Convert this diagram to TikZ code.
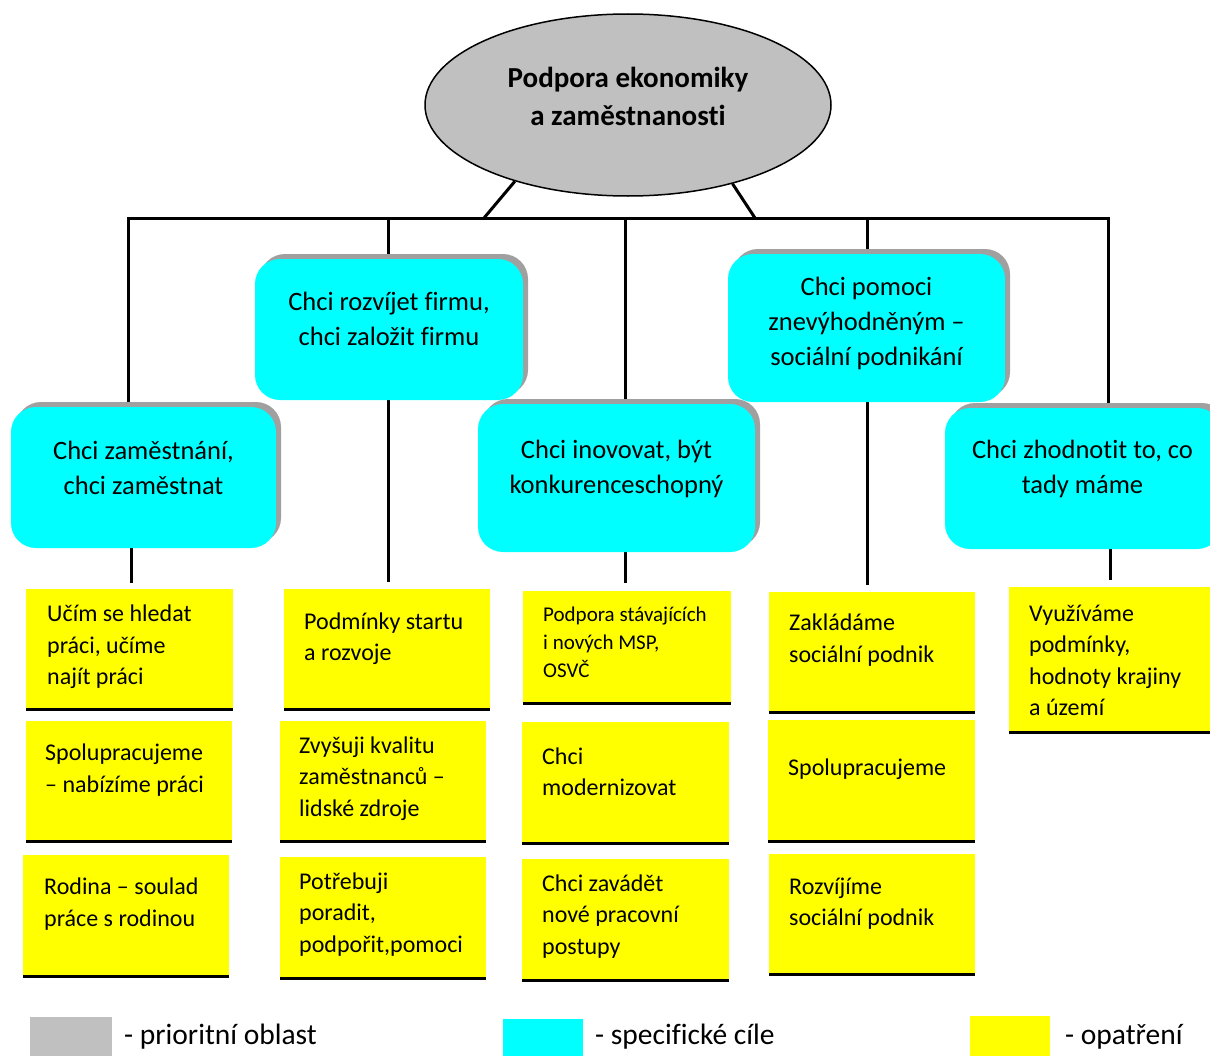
\documentclass[tikz,border=0pt]{standalone}
\usepackage{fontspec}
\setmainfont[Ligatures={NoCommon,NoContextual},Contextuals={NoAlternate}]{Carlito}
\usetikzlibrary{shapes.geometric,shadows,backgrounds}
\definecolor{cyanC}{HTML}{00FFFF}
\definecolor{yellowC}{HTML}{FFFF00}
\definecolor{grayC}{HTML}{C0C0C0}
\definecolor{shadowC}{HTML}{A0A0A0}
\begin{document}
\begin{tikzpicture}[x=1pt,y=-1pt,
  conn/.style={line width=3pt, draw=black},
  goalbox/.style={rectangle, rounded corners=25pt, fill=cyanC, inner sep=0pt, outer sep=0pt,
    general shadow={fill=shadowC, shadow xshift=5pt, shadow yshift=5pt}},
  goaltext/.style={font=\fontsize{26.5}{35}\selectfont, align=center, inner sep=0pt},
  measbox/.style={rectangle, fill=yellowC, inner sep=0pt, outer sep=0pt},
  meastext/.style={font=\fontsize{24}{31.5}\selectfont, align=left, anchor=west, inner sep=0pt},
  smalltext/.style={font=\fontsize{21}{28}\selectfont, align=left, anchor=west, inner sep=0pt},
  baseline/.style={line width=3pt, draw=black},
  legtext/.style={font=\fontsize{29.5}{34}\selectfont, anchor=west, inner sep=0pt}
]
\useasboundingbox (0,0) rectangle (1210,1057);
\begin{scope}
\clip (0,0) rectangle (1210,1057);

% priority area
\node[ellipse, fill=grayC, draw=black, line width=1.5pt, minimum width=406pt, minimum height=182pt, inner sep=0pt] (e) at (628,105) {};
\node[font=\bfseries\fontsize{29}{38}\selectfont, align=center, inner sep=0pt] (et) at (628,96) {Podpora ekonomiky\\a zaměstnanosti};

% specific goals
\node[goalbox, minimum width=265pt, minimum height=141pt] (c1) at (143.5,477.5) {};
\node[goalbox, minimum width=268pt, minimum height=141pt] (c2) at (389,329.5) {};
\node[goalbox, minimum width=277pt, minimum height=148pt] (c3) at (616.5,478) {};
\node[goalbox, minimum width=277pt, minimum height=148pt] (c4) at (866.5,328) {};
\node[goalbox, minimum width=277pt, minimum height=141pt] (c5) at (1083.5,478.5) {};

\node[goaltext] (t1) at (143.5,467.5) {Chci zaměstnání,\\chci zaměstnat};
\node[goaltext] (t2) at (389,318.5) {Chci rozvíjet firmu,\\chci založit firmu};
\node[goaltext] (t3) at (616.5,468.5) {Chci inovovat, být\\konkurenceschopný};
\node[goaltext] (t4) at (866.5,323.5) {Chci pomoci\\znevýhodněným –\\sociální podnikání};
\node[goaltext] (t5) at (1082.5,468.5) {Chci zhodnotit to, co\\tady máme};

% measures
\node[measbox, minimum width=207pt, minimum height=119pt] (y1a) at (129.5,648.5) {};
\node[measbox, minimum width=206pt, minimum height=119pt] (y1b) at (129,780.5) {};
\node[measbox, minimum width=206pt, minimum height=120pt] (y1c) at (126,915) {};
\node[measbox, minimum width=206pt, minimum height=119pt] (y2a) at (387,648.5) {};
\node[measbox, minimum width=206pt, minimum height=119pt] (y2b) at (383,780.5) {};
\node[measbox, minimum width=206pt, minimum height=120pt] (y2c) at (383,917) {};
\node[measbox, minimum width=208pt, minimum height=111pt] (y3a) at (627,646.5) {};
\node[measbox, minimum width=207pt, minimum height=120pt] (y3b) at (625.5,782) {};
\node[measbox, minimum width=207pt, minimum height=120pt] (y3c) at (625.5,919) {};
\node[measbox, minimum width=206pt, minimum height=119pt] (y4a) at (872,651.5) {};
\node[measbox, minimum width=207pt, minimum height=120pt] (y4b) at (871.5,780) {};
\node[measbox, minimum width=206pt, minimum height=119pt] (y4c) at (872,913.5) {};
\node[measbox, minimum width=210pt, minimum height=144pt] (y5a) at (1114,659) {};

\foreach \b in {y1a,y1b,y1c,y2a,y2b,y2c,y3a,y3b,y3c,y4a,y4b,y4c,y5a}
  \draw[baseline] ([yshift=-1.5pt]\b.south west) -- ([yshift=-1.5pt]\b.south east);

\node[meastext] (m1a) at (47,647) {Učím se hledat\\práci, učíme\\najít práci};
\node[meastext] (m1b) at (45,770) {Spolupracujeme\\– nabízíme práci};
\node[meastext] (m1c) at (44,904) {Rodina – soulad\\práce s rodinou};
\node[meastext] (m2a) at (304,638.5) {Podmínky startu\\a rozvoje};
\node[meastext] (m2b) at (299,778.5) {Zvyšuji kvalitu\\zaměstnanců –\\lidské zdroje};
\node[meastext] (m2c) at (299,914.5) {Potřebuji\\poradit,\\podpořit,pomoci};
\node[smalltext] (m3a) at (543,642) {Podpora stávajících\\i nových MSP,\\OSVČ};
\node[meastext] (m3b) at (542,771.5) {Chci\\modernizovat};
\node[meastext] (m3c) at (542,916.5) {Chci zavádět\\nové pracovní\\postupy};
\node[meastext] (m4a) at (789,640) {Zakládáme\\sociální podnik};
\node[meastext] (m4b) at (788,769) {Spolupracujeme};
\node[meastext] (m4c) at (789,903.5) {Rozvíjíme\\sociální podnik};
\node[meastext] (m5a) at (1029,660.5) {Využíváme\\podmínky,\\hodnoty krajiny\\a území};

% connector coordinates
\coordinate (bl) at (128,218);
\coordinate (br) at (1108,218);
\coordinate (k2) at (388,218);
\coordinate (k3) at (625,218);
\coordinate (k4) at (867,218);
\coordinate (sl) at (484,218);
\coordinate (sr) at (755,218);
\coordinate (d1) at (131,583);
\coordinate (d2) at (388,582);
\coordinate (d3) at (625,583);
\coordinate (d4) at (867,585);
\coordinate (d5) at (1110,580);

\begin{pgfonlayer}{background}
\draw[conn] (bl |- c1.center) -- (bl) -- (br) -- (br |- c5.center);
\draw[conn] (k2) -- (d2);
\draw[conn] (k3) -- (d3);
\draw[conn] (k4) -- (d4);
\draw[conn] (d1 |- c1.center) -- (d1);
\draw[conn] (d5 |- c5.center) -- (d5);
\draw[conn] (e.214) -- (sl);
\draw[conn] (e.323) -- (sr);
\end{pgfonlayer}

% legend
\node[rectangle, fill=grayC, minimum width=82pt, minimum height=39pt, inner sep=0pt] (lg) at (71,1036.5) {};
\node[legtext] (lgt) at (124,1037) {- prioritní oblast};
\node[rectangle, fill=cyanC, minimum width=80pt, minimum height=37pt, inner sep=0pt] (lc) at (543,1037.5) {};
\node[legtext] (lct) at (595,1037) {- specifické cíle};
\node[rectangle, fill=yellowC, minimum width=80pt, minimum height=40pt, inner sep=0pt] (ly) at (1010,1036) {};
\node[legtext] (lyt) at (1065,1037) {- opatření};
\end{scope}
\end{tikzpicture}
\end{document}
